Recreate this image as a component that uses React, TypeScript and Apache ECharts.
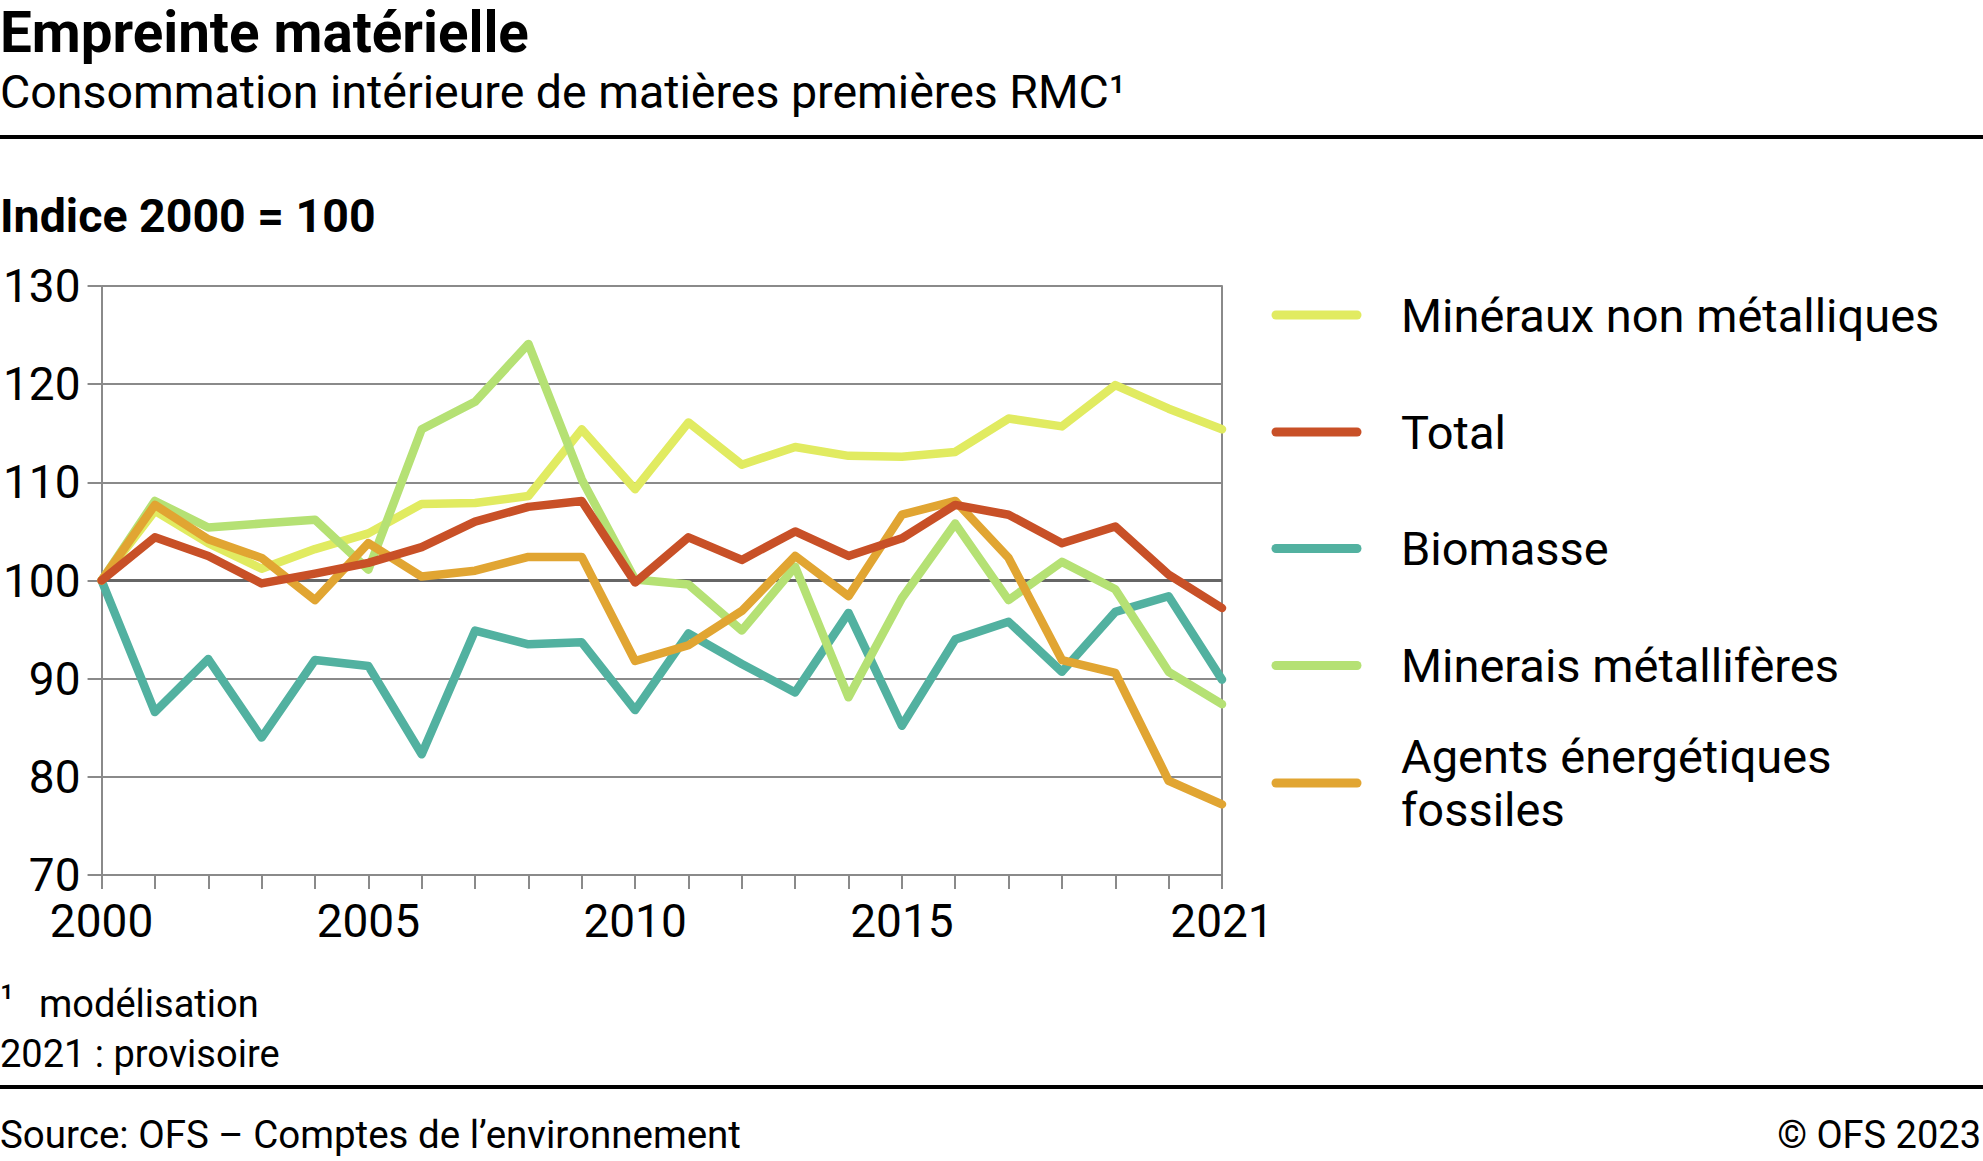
import React, { useEffect, useRef } from "react";
import * as echarts from "echarts";

const years = ["2000","2001","2002","2003","2004","2005","2006","2007","2008","2009","2010","2011","2012","2013","2014","2015","2016","2017","2018","2019","2020","2021"];
const shownYears = ["2000", "2005", "2010", "2015", "2021"];

const seriesNames = ["Minéraux non métalliques", "Total", "Biomasse", "Minerais métallifères", "Agents énergétiques\nfossiles"];
const seriesColors = ["#E1EB61", "#C85027", "#52B1A0", "#B5E174", "#E1A532"];

const mineraux = [100, 107.1, 103.8, 101.2, 103.2, 104.8, 107.8, 107.9, 108.6, 115.4, 109.3, 116.1, 111.8, 113.6, 112.7, 112.6, 113.1, 116.5, 115.7, 119.9, 117.5, 115.4];
const total = [100, 104.4, 102.5, 99.7, 100.7, 101.8, 103.4, 106.0, 107.5, 108.1, 99.8, 104.4, 102.1, 105.0, 102.5, 104.3, 107.7, 106.7, 103.8, 105.5, 100.6, 97.2];
const biomasse = [100, 86.6, 92.0, 84.0, 91.9, 91.3, 82.3, 94.9, 93.5, 93.7, 86.8, 94.6, 91.5, 88.6, 96.7, 85.2, 94.0, 95.8, 90.7, 96.8, 98.4, 89.9];
const minerais = [100, 108.1, 105.4, 105.8, 106.2, 101.1, 115.4, 118.2, 124.1, 110.3, 100.1, 99.6, 94.9, 101.4, 88.1, 98.2, 105.8, 98.0, 101.9, 99.1, 90.7, 87.4];
const fossiles = [100, 107.7, 104.2, 102.3, 98.0, 103.8, 100.4, 101.0, 102.4, 102.4, 91.8, 93.4, 96.9, 102.5, 98.4, 106.7, 108.1, 102.3, 91.9, 90.6, 79.6, 77.2];

const seriesValues = [mineraux, total, biomasse, minerais, fossiles];
// drawing order (bottom to top)
const drawOrder = [0, 2, 3, 4, 1];

const yMin = 70;
const yMax = 130;
const yStep = 10;

const FONT = "Roboto, 'Noto Sans', sans-serif";

export default function App() {
  const ref = useRef<HTMLDivElement>(null);

  useEffect(() => {
    if (!ref.current) return;
    const chart = echarts.init(ref.current, undefined, { renderer: "svg" });

    const series: any[] = drawOrder.map((idx, k) => ({
      type: "line",
      name: seriesNames[idx],
      data: seriesValues[idx],
      showSymbol: false,
      symbol: "none",
      lineStyle: { color: seriesColors[idx], width: 8.5, cap: "round", join: "round" },
      itemStyle: { color: seriesColors[idx] },
      z: 3 + k,
      markLine:
        k === 0
          ? {
              silent: true,
              symbol: "none",
              z: 1,
              label: { show: false },
              lineStyle: { color: "#666666", width: 3, type: "solid" },
              data: [{ yAxis: 100 }],
            }
          : undefined,
    }));

    const legendTop = [315, 432, 548.5, 665.5, 783];
    const legendGraphics: any[] = [];
    seriesNames.forEach((name, i) => {
      legendGraphics.push({
        type: "line",
        shape: { x1: 1276, y1: legendTop[i], x2: 1357, y2: legendTop[i] },
        style: { stroke: seriesColors[i], lineWidth: 9, lineCap: "round" },
      });
      const lines = name.split("\n");
      const lh = 53;
      lines.forEach((ln, j) => {
        const y = legendTop[i] + (j - (lines.length - 1) / 2) * lh;
        legendGraphics.push({
          type: "text",
          x: 1401,
          y,
          style: { text: ln, font: `400 47px ${FONT}`, fill: "#000", textAlign: "left", textVerticalAlign: "middle", verticalAlign: "middle" },
        });
      });
    });

    const txt = (text: string, x: number, y: number, size: number, weight: number, align = "left") => ({
      type: "text",
      x,
      y,
      style: { text, font: `${weight} ${size}px ${FONT}`, fill: "#000", textAlign: align, verticalAlign: "middle", textVerticalAlign: "middle" },
    });

    const option: any = {
      animation: false,
      backgroundColor: "#ffffff",
      grid: { left: 101, right: 1983 - 1222, top: 286, bottom: 1161 - 875, containLabel: false },
      xAxis: {
        type: "category",
        data: years,
        boundaryGap: false,
        axisLine: { show: true, lineStyle: { color: "#8a8a8a", width: 2 } },
        axisTick: { show: true, interval: 0, length: 14, lineStyle: { color: "#8a8a8a", width: 2 } },
        axisLabel: {
          interval: (i: number, v: string) => shownYears.includes(v),
          margin: 23,
          fontSize: 46,
          fontFamily: FONT,
          color: "#000",
        },
        splitLine: { show: false },
      },
      yAxis: [
        {
          type: "value",
          min: yMin,
          max: yMax,
          interval: yStep,
          axisLine: { show: true, lineStyle: { color: "#8a8a8a", width: 2 } },
          axisTick: { show: true, length: 14, lineStyle: { color: "#8a8a8a", width: 2 } },
          axisLabel: { margin: 21, fontSize: 46, fontFamily: FONT, color: "#000" },
          splitLine: { show: true, lineStyle: { color: "#8a8a8a", width: 2 } },
        },
        {
          type: "value",
          position: "right",
          min: yMin,
          max: yMax,
          interval: yStep,
          axisLine: { show: true, lineStyle: { color: "#8a8a8a", width: 2 } },
          axisTick: { show: false },
          axisLabel: { show: false },
          splitLine: { show: false },
        },
      ],
      series,
      graphic: [
        txt("Empreinte matérielle", 0, 33, 56.5, 700),
        txt("Consommation intérieure de matières premières RMC¹", 0, 92, 46.5, 400),
        { type: "rect", shape: { x: 0, y: 135, width: 1983, height: 4 }, style: { fill: "#000" } },
        txt("Indice 2000 = 100", 0, 215.5, 46.5, 700),
        ...legendGraphics,
        txt("¹", 0, 998, 38, 400),
        txt("modélisation", 39, 1003.5, 38, 400),
        txt("2021 : provisoire", 0, 1053.5, 38, 400),
        { type: "rect", shape: { x: 0, y: 1085, width: 1983, height: 4 }, style: { fill: "#000" } },
        txt("Source: OFS – Comptes de l’environnement", 0, 1134.5, 38.5, 400),
        txt("© OFS 2023", 1981, 1134.5, 38, 400, "right"),
      ],
    };

    chart.setOption(option);
    return () => chart.dispose();
  }, []);

  return (
    <div
      ref={ref}
      style={{ position: "absolute", left: 0, top: 0, width: 1983, height: 1161, background: "#fff" }}
    />
  );
}
